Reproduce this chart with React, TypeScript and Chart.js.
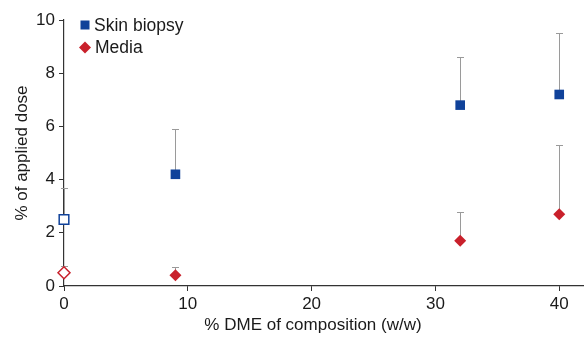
import React, { useEffect, useRef } from "react";
import { Chart, registerables } from "chart.js";

Chart.register(...registerables);

const seriesNames = ["Skin biopsy", "Media"];
const xTitle = "% DME of composition (w/w)";
const yTitle = "% of applied dose";
const xValues = [0, 9, 32, 40];
const skinValues = [2.5, 4.2, 6.8, 7.2];
const skinUpper = [3.7, 5.9, 8.6, 9.5];
const mediaValues = [0.5, 0.4, 1.7, 2.7];
const mediaUpper = [0.75, 0.73, 2.8, 5.3];
const xTicks = [0, 10, 20, 30, 40];
const yTicks = [0, 2, 4, 6, 8, 10];
const openAtIndex = [true, false, false, false];

const BLUE = "#10429a";
const RED = "#c9202b";
const FONT = "'Liberation Sans', Arial, Helvetica, sans-serif";

const errorBarPlugin = {
  id: "errorBars",
  beforeDatasetsDraw(chart: any) {
    const { ctx, scales } = chart;
    const xs = scales.x;
    const ys = scales.y;
    const uppers = [skinUpper, mediaUpper];
    const vals = [skinValues, mediaValues];
    ctx.save();
    ctx.strokeStyle = "#9a9a9a";
    ctx.lineWidth = 1;
    uppers.forEach((up, si) => {
      up.forEach((u, i) => {
        const px = Math.round(xs.getPixelForValue(xValues[i])) + 0.5;
        const py0 = ys.getPixelForValue(vals[si][i]);
        const py1 = Math.round(ys.getPixelForValue(u)) + 0.5;
        ctx.beginPath();
        ctx.moveTo(px, py0);
        ctx.lineTo(px, py1);
        ctx.moveTo(px - 3.5, py1);
        ctx.lineTo(px + 3.5, py1);
        ctx.stroke();
      });
    });
    ctx.restore();
  },
};

const textPlugin = {
  id: "insideLegend",
  afterDraw(chart: any) {
    const { ctx, chartArea } = chart;
    const lx = chartArea.left + 21;
    const ty = chartArea.top + 5;
    ctx.save();
    ctx.font = `17.5px ${FONT}`;
    ctx.textBaseline = "middle";
    ctx.fillStyle = BLUE;
    ctx.fillRect(lx - 4.5, ty - 4.5, 9, 9);
    ctx.fillStyle = "#1a1a1a";
    ctx.fillText(seriesNames[0], lx + 9, ty + 1);
    const dy = ty + 22.5;
    ctx.fillStyle = RED;
    ctx.beginPath();
    ctx.moveTo(lx, dy - 6);
    ctx.lineTo(lx + 6, dy);
    ctx.lineTo(lx, dy + 6);
    ctx.lineTo(lx - 6, dy);
    ctx.closePath();
    ctx.fill();
    ctx.fillStyle = "#1a1a1a";
    ctx.fillText(seriesNames[1], lx + 10, dy + 1);

    ctx.font = `17px ${FONT}`;
    ctx.textAlign = "center";
    ctx.textBaseline = "middle";
    ctx.fillText(xTitle, 313, chartArea.bottom + 39);
    ctx.restore();
  },
};

export default function App() {
  const ref = useRef<HTMLCanvasElement | null>(null);
  useEffect(() => {
    if (!ref.current) return;
    const mk = (vals: number[], color: string, style: string, r: number) => ({
      label: "",
      data: vals.map((v, i) => ({ x: xValues[i], y: v })),
      showLine: false,
      pointStyle: style,
      pointRadius: r,
      pointHoverRadius: r,
      pointBackgroundColor: openAtIndex.map((o) => (o ? "#ffffff" : color)),
      pointBorderColor: color,
      pointBorderWidth: openAtIndex.map((o) => (o ? 1.5 : 0)),
      clip: false,
    });
    const chart = new Chart(ref.current, {
      type: "scatter",
      data: {
        datasets: [
          mk(skinValues, BLUE, "rect", 6.8),
          mk(mediaValues, RED, "rectRot", 6),
        ] as any,
      },
      options: {
        animation: false,
        responsive: false,
        maintainAspectRatio: false,
        layout: { autoPadding: false, padding: { top: 20, right: 0, left: 0, bottom: 0 } },
        plugins: { legend: { display: false }, tooltip: { enabled: false } },
        scales: {
          x: {
            type: "linear",
            min: 0,
            max: 42,
            afterBuildTicks: (s: any) => {
              s.ticks = xTicks.map((v) => ({ value: v }));
            },
            afterFit: (s: any) => {
              s.height = 55;
              s.paddingRight = 0;
              s.paddingLeft = 0;
            },
            grid: {
              drawOnChartArea: false,
              drawTicks: true,
              tickLength: 5,
              color: "#333",
              tickColor: "#333",
            },
            border: { display: true, color: "#333", width: 1.2 },
            ticks: {
              padding: 3,
              color: "#1a1a1a",
              font: { family: FONT, size: 17 },
            },
            title: { display: false },
          },
          y: {
            type: "linear",
            min: 0,
            max: 10,
            afterBuildTicks: (s: any) => {
              s.ticks = yTicks.map((v) => ({ value: v }));
            },
            afterFit: (s: any) => {
              s.width = 64;
            },
            grid: {
              drawOnChartArea: false,
              drawTicks: true,
              tickLength: 5,
              color: "#333",
              tickColor: "#333",
            },
            border: { display: true, color: "#333", width: 1.2 },
            ticks: {
              padding: 4,
              color: "#1a1a1a",
              font: { family: FONT, size: 17 },
            },
            title: {
              display: true,
              text: yTitle,
              color: "#1a1a1a",
              font: { family: FONT, size: 17 },
              padding: { top: 12, bottom: 0 },
            },
          },
        },
      },
      plugins: [errorBarPlugin, textPlugin],
    } as any);
    return () => chart.destroy();
  }, []);
  return (
    <div style={{ position: "fixed", left: 0, top: 0, width: 584, height: 341, background: "#fff" }}>
      <canvas ref={ref} width={584} height={341} style={{ width: 584, height: 341, display: "block" }} />
    </div>
  );
}
